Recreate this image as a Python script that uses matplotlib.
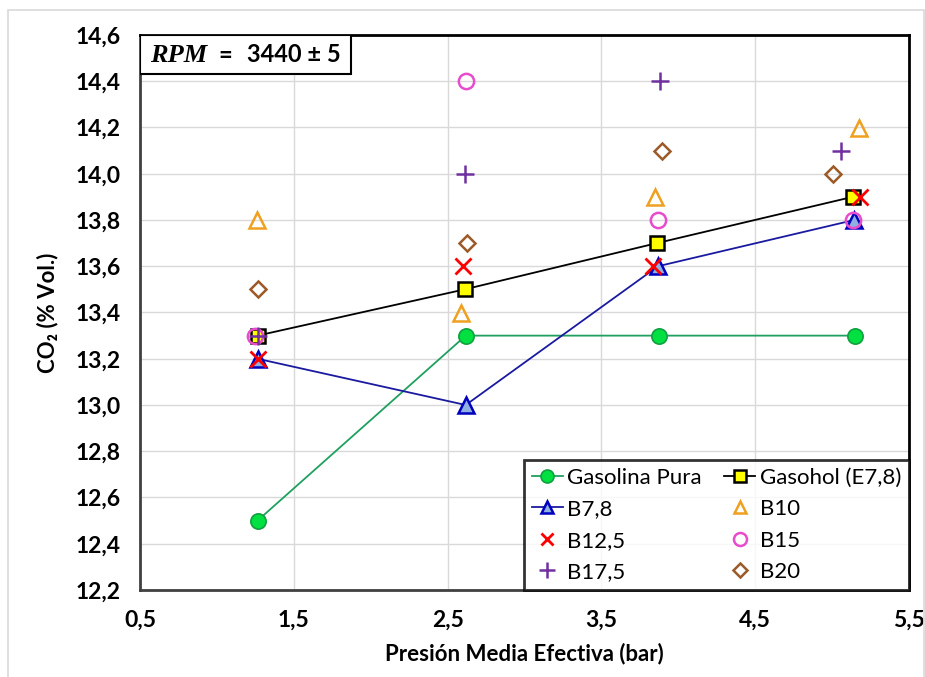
import matplotlib
matplotlib.use("Agg")
import matplotlib.pyplot as plt
from matplotlib.patches import Rectangle
from matplotlib.ticker import FuncFormatter, MultipleLocator

plt.rcParams['font.family'] = ['Lato', 'DejaVu Sans']

# ---- data ----
gas_x = [1.264, 2.618, 3.874, 5.147]
gas_y = [12.5, 13.3, 13.3, 13.3]
gasohol_x = [1.264, 2.611, 3.861, 5.134]
gasohol_y = [13.3, 13.5, 13.7, 13.9]
b78_x = [1.264, 2.618, 3.868, 5.144]
b78_y = [13.2, 13.0, 13.6, 13.8]
b10_x = [1.258, 2.585, 3.848, 5.176]
b10_y = [13.8, 13.4, 13.9, 14.2]
b125_x = [1.264, 2.598, 3.835, 5.183]
b125_y = [13.2, 13.6, 13.6, 13.9]
b15_x = [1.245, 2.618, 3.868, 5.137]
b15_y = [13.3, 14.4, 13.8, 13.8]
b175_x = [1.264, 2.611, 3.881, 5.06]
b175_y = [13.3, 14.0, 14.4, 14.1]
b20_x = [1.264, 2.624, 3.894, 5.008]
b20_y = [13.5, 13.7, 14.1, 14.0]

x_ticks = [0.5, 1.5, 2.5, 3.5, 4.5, 5.5]
y_min, y_max = 12.2, 14.6

fig = plt.figure(figsize=(9.25, 6.77), dpi=100)
fig.patches.append(Rectangle((8/925, -0.01), 0.99, (677-10)/677 + 0.01,
                             transform=fig.transFigure, fill=False,
                             edgecolor='#d9d9d9', lw=1.2))
ax = fig.add_axes([140/925, 1-590/677, (909-140)/925, (590-35)/677])

h_gas, = ax.plot(gas_x, gas_y, '-o', color='#1fa060', lw=1.3, ms=11,
                 mfc='#00e040', mec='#10a040', mew=1.2, label='Gasolina Pura', zorder=3)
h_gsh, = ax.plot(gasohol_x, gasohol_y, '-s', color='black', lw=1.3, ms=10,
                 mfc='#ffff00', mec='black', mew=1.8, label='Gasohol (E7,8)', zorder=3)
h_b78, = ax.plot(b78_x, b78_y, '-^', color='#1a1aa0', lw=1.3, ms=11,
                 mfc='#8fb0e0', mec='#0000c0', mew=1.8, label='B7,8', zorder=3)
h_b10, = ax.plot(b10_x, b10_y, '^', ls='none', ms=11, mfc='none', mec='#f0a020',
                 mew=1.8, label='B10', zorder=3)
h_b125, = ax.plot(b125_x, b125_y, 'x', ls='none', ms=11, mec='#ff0000',
                  mew=2.0, label='B12,5', zorder=3)
h_b15, = ax.plot(b15_x, b15_y, 'o', ls='none', ms=11, mfc='none', mec='#e84ccc',
                 mew=1.8, label='B15', zorder=3)
h_b175, = ax.plot(b175_x, b175_y, '+', ls='none', ms=13, mec='#7030a0',
                  mew=1.8, label='B17,5', zorder=3)
h_b20, = ax.plot(b20_x, b20_y, 'D', ls='none', ms=8.5, mfc='none', mec='#9c5a28',
                 mew=1.8, label='B20', zorder=3)

ax.set_xlim(x_ticks[0], x_ticks[-1])
ax.set_ylim(y_min, y_max)
ax.set_xticks(x_ticks)
ax.yaxis.set_major_locator(MultipleLocator(0.2))
fmt = FuncFormatter(lambda v, p: f"{v:.1f}".replace('.', ','))
ax.xaxis.set_major_formatter(fmt)
ax.yaxis.set_major_formatter(fmt)
ax.grid(True, color='#d9d9d9', lw=1.0)
ax.set_axisbelow(True)
ax.tick_params(length=0, labelsize=16.5, pad=14)
for lab in ax.get_xticklabels() + ax.get_yticklabels():
    lab.set_fontweight('bold')
for s in ax.spines.values():
    s.set_linewidth(2.0)
    s.set_color('black')
ax.spines['left'].set_color('#404040')
ax.spines['bottom'].set_color('#404040')

ax.set_xlabel('Presión Media Efectiva (bar)', fontsize=16, fontweight='bold', labelpad=9)
ax.set_ylabel('CO₂ (% Vol.)', fontsize=16, fontweight='bold', labelpad=12)

# RPM box
ax.add_patch(Rectangle((0, 1-39/555), 211/769, 39/555, transform=ax.transAxes,
                       fill=True, facecolor='white', edgecolor='black', lw=1.5, zorder=5))
ax.text(10/769, 1-20/555, 'RPM', transform=ax.transAxes, fontsize=19,
        family='Liberation Serif', style='italic', fontweight='bold',
        va='center', ha='left', zorder=6)
ax.text(78/769, 1-20/555, '=', transform=ax.transAxes, fontsize=17,
        fontweight='bold', va='center', ha='left', zorder=6)
ax.text(107/769, 1-20/555, '3440 ± 5', transform=ax.transAxes, fontsize=17,
        fontweight='bold', va='center', ha='left', zorder=6)

handles = [h_gas, h_b78, h_b125, h_b175, h_gsh, h_b10, h_b15, h_b20]
leg = ax.legend(handles=handles, labels=[h.get_label() for h in handles],
                loc='lower right', ncol=2, fontsize=16, frameon=True,
                fancybox=False, borderaxespad=0, handlelength=1.4,
                handletextpad=0.2, columnspacing=1.0, labelspacing=0.52,
                borderpad=0.35, markerscale=0.85)
leg.get_frame().set_edgecolor('black')
leg.get_frame().set_linewidth(2.0)

fig.savefig('out.png', dpi=100)
